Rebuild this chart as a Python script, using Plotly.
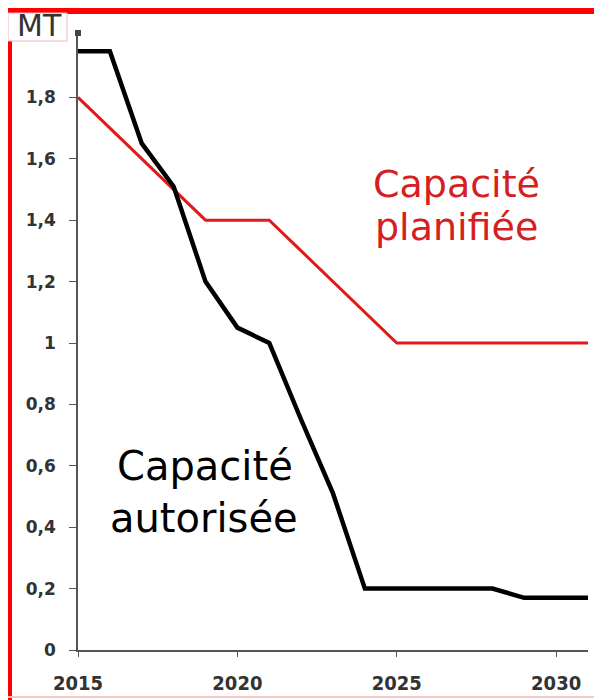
import plotly.graph_objects as go

years = list(range(2015, 2032))
autorisee = [1.95, 1.95, 1.65, 1.51, 1.20, 1.05, 1.00, 0.75, 0.51, 0.20, 0.20, 0.20, 0.20, 0.20, 0.17, 0.17, 0.17]
planifiee = [1.80, 1.70, 1.60, 1.50, 1.40, 1.40, 1.40, 1.30, 1.20, 1.10, 1.00, 1.00, 1.00, 1.00, 1.00, 1.00, 1.00]
y_ticks = [0, 0.2, 0.4, 0.6, 0.8, 1.0, 1.2, 1.4, 1.6, 1.8]
x_ticks = [2015, 2020, 2025, 2030]

# page body has an 8px margin; work in page pixel coordinates
O = 8
W, H = 594, 692
L, R, T, B = 70, 14, 28, 50
pw, ph = W - L - R, H - T - B

def px(x):  # page pixel x -> paper
    return (x - O - L) / pw

def py(y):  # page pixel y -> paper
    return (H - B - (y - O)) / ph

fig = go.Figure()
fig.add_trace(go.Scatter(x=years, y=planifiee, mode="lines",
                         line=dict(color="#e01a1a", width=3), showlegend=False))
fig.add_trace(go.Scatter(x=years, y=autorisee, mode="lines",
                         line=dict(color="#000000", width=4.5), showlegend=False))

shapes = [
    dict(type="rect", xref="paper", yref="paper", x0=px(0), x1=px(610), y0=py(14), y1=py(0),
         fillcolor="#ff0000", line_width=0, layer="above"),
    dict(type="rect", xref="paper", yref="paper", x0=px(8), x1=px(12), y0=py(710), y1=py(0),
         fillcolor="#ff0000", line_width=0, layer="above"),
    dict(type="rect", xref="paper", yref="paper", x0=px(598), x1=px(610), y0=py(710), y1=py(0),
         fillcolor="#e84848", line_width=0, layer="above"),
    dict(type="rect", xref="paper", yref="paper", x0=px(0), x1=px(610), y0=py(698), y1=py(696),
         fillcolor="#f6c8c8", line_width=0, layer="above"),
    dict(type="rect", xref="paper", yref="paper", x0=px(8), x1=px(67), y0=py(41), y1=py(13),
         fillcolor="white", line=dict(color="#e8b8c4", width=1), layer="above"),
    dict(type="rect", xref="paper", yref="paper", x0=px(75), x1=px(81), y0=py(36), y1=py(30),
         fillcolor="#444", line_width=0, layer="above"),
]

def ann(text, x, y, size, color):
    return dict(text=text, xref="paper", yref="paper", x=px(x), y=py(y), showarrow=False,
                font=dict(family="DejaVu Sans", size=size, color=color),
                xanchor="center", yanchor="middle")

annotations = [
    ann("MT", 39, 26, 30, "#333"),
    ann("Capacité", 456, 184, 38, "#d42020"),
    ann("planifiée", 456, 227, 38, "#d42020"),
    ann("Capacité", 205, 466, 40, "#000"),
    ann("autorisée", 204, 518, 40, "#000"),
]

fig.update_layout(
    width=W, height=H,
    margin=dict(l=L, r=R, t=T, b=B, autoexpand=False),
    paper_bgcolor="white", plot_bgcolor="white",
    separators=", ",
    shapes=shapes, annotations=annotations,
    xaxis=dict(range=[2015, 2031], tickvals=x_ticks, ticktext=[str(v) for v in x_ticks],
               automargin=False,
               showgrid=False, zeroline=False, showline=True, linecolor="#555", linewidth=1.5,
               ticks="outside", ticklen=5, tickcolor="#555", ticklabelstandoff=9,
               tickfont=dict(family="DejaVu Sans Condensed, DejaVu Sans", size=20,
                             color="#333", weight="bold")),
    yaxis=dict(range=[0, 2.0], tickvals=y_ticks, automargin=False,
               showgrid=False, zeroline=False, showline=True, linecolor="#555", linewidth=1.5,
               ticks="outside", ticklen=7, tickcolor="#555", ticklabelstandoff=10,
               tickfont=dict(family="DejaVu Sans", size=17, color="#333", weight="bold")),
)

fig.write_html("out.html")
